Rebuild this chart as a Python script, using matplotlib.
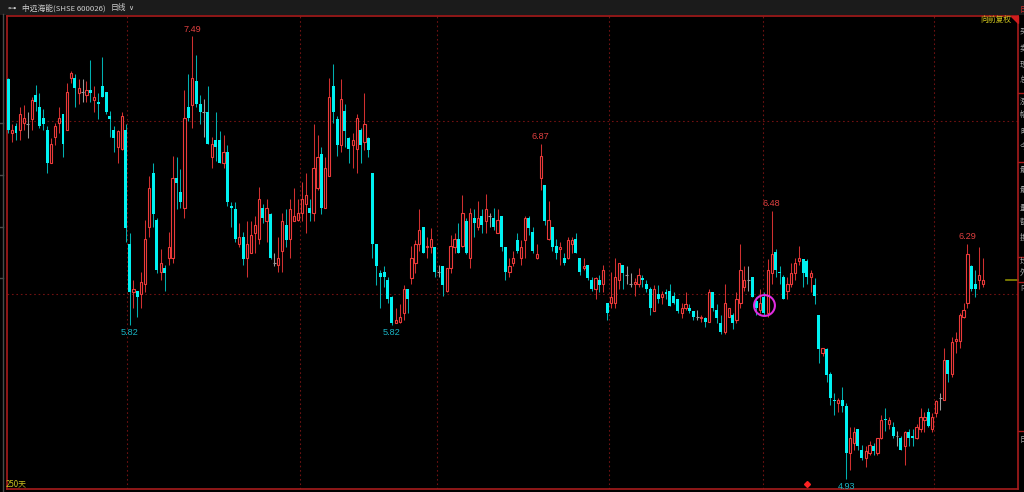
import numpy as np
import matplotlib
matplotlib.use("Agg")
import matplotlib.pyplot as plt
import matplotlib.transforms as mtransforms
from matplotlib.patches import Rectangle, Polygon
from matplotlib.lines import Line2D

plt.rcParams['font.family'] = ['Noto Sans CJK SC', 'DejaVu Sans']

# 日线 OHLC, 250 根, 从左到右
opens = [
    7.24, 6.93, 6.97, 6.95, 6.99, 6.98, 7.01, 7.15, 7.08, 7.02,
    6.95, 6.76, 6.91, 6.99, 7.04, 6.95, 7.25, 7.25, 7.16, 7.17,
    7.15, 7.18, 7.12, 7.11, 7.20, 7.17, 7.03, 6.95, 6.85, 6.84,
    6.95, 6.29, 6.01, 6.02, 6.00, 6.06, 6.39, 6.70, 6.43, 6.13,
    6.15, 6.21, 6.21, 6.67, 6.59, 6.50, 7.08, 7.09, 7.23, 7.10,
    7.05, 7.05, 6.79, 6.89, 6.89, 6.76, 6.82, 6.51, 6.49, 6.29,
    6.33, 6.21, 6.24, 6.35, 6.32, 6.50, 6.42, 6.46, 6.18, 6.17,
    6.25, 6.40, 6.32, 6.42, 6.43, 6.47, 6.52, 6.50, 6.47, 6.61,
    6.81, 6.50, 6.68, 7.20, 7.01, 6.86, 7.06, 6.90, 6.86, 6.84,
    6.95, 6.88, 6.90, 6.70, 6.29, 6.12, 6.13, 6.08, 5.98, 5.83,
    5.84, 5.89, 6.03, 6.09, 6.18, 6.29, 6.39, 6.27, 6.27, 6.27,
    6.13, 6.16, 6.02, 6.15, 6.27, 6.32, 6.28, 6.42, 6.21, 6.44,
    6.39, 6.45, 6.42, 6.45, 6.44, 6.35, 6.45, 6.27, 6.13, 6.18,
    6.31, 6.21, 6.31, 6.44, 6.36, 6.21, 6.67, 6.63, 6.32, 6.39,
    6.28, 6.26, 6.21, 6.21, 6.29, 6.32, 6.21, 6.15, 6.17, 6.08,
    6.03, 6.08, 6.06, 5.95, 5.95, 5.95, 6.08, 6.17, 6.11, 6.06,
    6.06, 6.06, 6.09, 6.06, 6.03, 5.90, 6.00, 5.98, 6.01, 6.02,
    5.99, 5.97, 5.89, 5.92, 5.92, 5.90, 5.87, 5.86, 5.86, 5.84,
    6.01, 5.91, 5.83, 5.78, 5.87, 5.88, 5.85, 5.95, 6.04, 6.08,
    6.10, 5.96, 5.91, 5.98, 5.89, 6.12, 6.24, 6.13, 6.10, 6.02,
    6.06, 6.12, 6.19, 6.20, 6.19, 6.10, 6.05, 5.88, 5.66, 5.68,
    5.54, 5.39, 5.37, 5.39, 5.35, 5.08, 5.14, 5.22, 5.10, 5.05,
    5.08, 5.12, 5.08, 5.17, 5.28, 5.25, 5.23, 5.18, 5.17, 5.12,
    5.20, 5.18, 5.17, 5.22, 5.27, 5.32, 5.22, 5.31, 5.40, 5.39,
    5.62, 5.54, 5.73, 5.73, 5.87, 5.95, 6.16, 6.06, 6.08, 6.06,
]
highs = [
    7.25, 6.98, 6.99, 7.08, 7.09, 7.05, 7.14, 7.21, 7.16, 7.07,
    6.97, 6.90, 6.99, 7.08, 7.04, 7.22, 7.29, 7.27, 7.24, 7.24,
    7.23, 7.35, 7.20, 7.16, 7.37, 7.17, 7.06, 6.97, 6.95, 7.05,
    6.98, 6.35, 6.08, 6.02, 6.13, 6.43, 6.68, 6.76, 6.44, 6.26,
    6.17, 6.36, 6.80, 6.79, 6.72, 7.18, 7.27, 7.49, 7.38, 7.15,
    7.13, 7.20, 6.91, 7.05, 6.94, 6.92, 6.86, 6.53, 6.53, 6.41,
    6.36, 6.42, 6.42, 6.45, 6.62, 6.52, 6.55, 6.47, 6.24, 6.33,
    6.47, 6.49, 6.55, 6.61, 6.55, 6.65, 6.70, 6.55, 6.98, 6.92,
    6.85, 6.79, 7.25, 7.33, 7.03, 7.24, 7.10, 6.91, 6.93, 7.04,
    6.96, 7.16, 6.91, 6.70, 6.29, 6.14, 6.16, 6.10, 5.99, 5.92,
    5.94, 6.05, 6.03, 6.28, 6.31, 6.49, 6.39, 6.33, 6.38, 6.27,
    6.17, 6.16, 6.15, 6.34, 6.35, 6.41, 6.57, 6.44, 6.50, 6.49,
    6.54, 6.49, 6.58, 6.47, 6.50, 6.49, 6.45, 6.27, 6.21, 6.25,
    6.35, 6.31, 6.45, 6.45, 6.39, 6.29, 6.87, 6.63, 6.54, 6.39,
    6.32, 6.30, 6.24, 6.33, 6.33, 6.35, 6.21, 6.21, 6.17, 6.10,
    6.10, 6.11, 6.17, 5.95, 6.13, 6.21, 6.18, 6.17, 6.16, 6.12,
    6.09, 6.15, 6.11, 6.08, 6.04, 6.05, 6.05, 6.02, 6.03, 6.06,
    6.01, 5.97, 5.95, 6.01, 5.94, 5.90, 5.91, 5.88, 5.87, 6.03,
    6.01, 5.94, 5.88, 6.06, 5.92, 5.89, 6.01, 6.29, 6.16, 6.16,
    6.10, 5.98, 6.03, 6.01, 6.20, 6.48, 6.26, 6.16, 6.11, 6.10,
    6.18, 6.21, 6.28, 6.20, 6.20, 6.14, 6.09, 5.88, 5.69, 5.69,
    5.55, 5.43, 5.40, 5.46, 5.37, 5.23, 5.23, 5.22, 5.13, 5.12,
    5.15, 5.14, 5.17, 5.30, 5.34, 5.29, 5.26, 5.21, 5.18, 5.21,
    5.22, 5.22, 5.25, 5.34, 5.32, 5.34, 5.31, 5.39, 5.43, 5.69,
    5.62, 5.75, 5.78, 5.89, 5.95, 6.29, 6.17, 6.14, 6.27, 6.21,
]
lows = [
    6.93, 6.88, 6.89, 6.89, 6.95, 6.90, 6.95, 7.06, 6.96, 6.95,
    6.70, 6.76, 6.86, 6.93, 6.79, 6.95, 7.22, 7.08, 7.10, 7.11,
    7.11, 7.11, 7.05, 7.01, 7.14, 7.04, 6.91, 6.82, 6.76, 6.83,
    6.30, 5.82, 5.92, 5.87, 5.92, 6.01, 6.33, 6.39, 6.12, 6.08,
    6.02, 6.17, 6.18, 6.49, 6.50, 6.44, 7.00, 6.96, 7.08, 6.98,
    6.91, 6.87, 6.73, 6.77, 6.76, 6.73, 6.51, 6.39, 6.30, 6.27,
    6.17, 6.10, 6.24, 6.24, 6.29, 6.41, 6.30, 6.20, 6.16, 6.13,
    6.13, 6.27, 6.21, 6.42, 6.42, 6.42, 6.35, 6.42, 6.42, 6.60,
    6.46, 6.50, 6.68, 6.99, 6.80, 6.82, 6.85, 6.76, 6.73, 6.70,
    6.76, 6.83, 6.79, 6.21, 6.05, 5.92, 6.04, 5.95, 5.82, 5.83,
    5.83, 5.85, 5.89, 6.06, 6.12, 6.25, 6.24, 6.21, 6.24, 6.10,
    6.10, 5.99, 6.01, 6.12, 6.24, 6.24, 6.27, 6.23, 6.15, 6.33,
    6.37, 6.35, 6.35, 6.39, 6.37, 6.35, 6.25, 6.08, 6.10, 6.16,
    6.24, 6.17, 6.21, 6.34, 6.24, 6.20, 6.60, 6.40, 6.31, 6.25,
    6.20, 6.17, 6.17, 6.20, 6.24, 6.24, 6.11, 6.14, 6.08, 6.02,
    5.97, 6.01, 6.01, 5.85, 5.92, 5.92, 6.03, 6.03, 6.06, 6.04,
    5.99, 6.04, 6.04, 6.01, 5.88, 5.90, 5.95, 5.94, 5.97, 5.93,
    5.94, 5.89, 5.86, 5.91, 5.89, 5.85, 5.85, 5.84, 5.81, 5.84,
    5.90, 5.83, 5.77, 5.77, 5.87, 5.80, 5.83, 5.92, 6.02, 6.02,
    5.98, 5.88, 5.89, 5.88, 5.87, 6.06, 6.10, 6.06, 5.97, 5.97,
    6.04, 6.08, 6.17, 6.04, 6.06, 6.01, 5.94, 5.60, 5.64, 5.49,
    5.36, 5.30, 5.32, 5.32, 4.93, 4.98, 5.10, 5.10, 5.04, 5.00,
    5.07, 5.07, 5.07, 5.16, 5.21, 5.22, 5.17, 5.12, 5.10, 5.01,
    5.12, 5.12, 5.16, 5.20, 5.20, 5.23, 5.20, 5.29, 5.33, 5.39,
    5.49, 5.52, 5.66, 5.69, 5.86, 5.92, 6.02, 5.98, 6.03, 6.04,
]
closes = [
    6.95, 6.95, 6.93, 7.04, 7.02, 6.98, 7.12, 7.11, 6.97, 6.98,
    6.76, 6.87, 6.97, 7.02, 6.87, 7.17, 7.28, 7.19, 7.19, 7.17,
    7.18, 7.16, 7.14, 7.10, 7.14, 7.05, 7.01, 6.90, 6.94, 7.03,
    6.38, 6.01, 6.03, 5.98, 6.07, 6.32, 6.61, 6.46, 6.14, 6.18,
    6.12, 6.27, 6.67, 6.64, 6.53, 7.02, 7.02, 7.25, 7.10, 7.05,
    7.05, 6.87, 6.87, 6.85, 6.76, 6.82, 6.53, 6.50, 6.32, 6.33,
    6.20, 6.29, 6.34, 6.40, 6.55, 6.44, 6.50, 6.21, 6.18, 6.21,
    6.42, 6.31, 6.49, 6.45, 6.47, 6.55, 6.57, 6.47, 6.73, 6.79,
    6.50, 6.73, 7.14, 7.05, 6.86, 7.13, 6.94, 6.84, 6.89, 7.02,
    6.86, 6.98, 6.83, 6.29, 6.16, 6.10, 6.10, 5.97, 5.83, 5.85,
    5.87, 6.03, 5.97, 6.21, 6.29, 6.37, 6.24, 6.28, 6.32, 6.13,
    6.13, 6.05, 6.15, 6.28, 6.32, 6.24, 6.47, 6.24, 6.47, 6.41,
    6.44, 6.40, 6.49, 6.45, 6.39, 6.43, 6.27, 6.13, 6.16, 6.21,
    6.25, 6.27, 6.44, 6.38, 6.25, 6.23, 6.80, 6.42, 6.43, 6.27,
    6.24, 6.27, 6.18, 6.31, 6.31, 6.24, 6.13, 6.16, 6.09, 6.03,
    6.09, 6.05, 6.14, 5.89, 5.98, 6.10, 6.18, 6.12, 6.11, 6.06,
    6.07, 6.11, 6.08, 6.03, 5.92, 6.03, 5.97, 6.00, 6.00, 5.93,
    5.95, 5.90, 5.92, 5.94, 5.90, 5.87, 5.87, 5.87, 5.84, 6.01,
    5.92, 5.86, 5.78, 5.95, 5.92, 5.83, 5.97, 6.14, 6.08, 6.08,
    5.98, 5.92, 5.95, 5.89, 6.14, 6.23, 6.14, 6.12, 5.97, 6.06,
    6.12, 6.18, 6.21, 6.12, 6.10, 6.12, 5.99, 5.68, 5.69, 5.53,
    5.40, 5.38, 5.39, 5.35, 5.08, 5.17, 5.20, 5.12, 5.05, 5.09,
    5.13, 5.09, 5.17, 5.27, 5.27, 5.27, 5.18, 5.18, 5.10, 5.20,
    5.17, 5.17, 5.23, 5.29, 5.29, 5.24, 5.29, 5.38, 5.40, 5.62,
    5.54, 5.72, 5.74, 5.88, 5.91, 6.23, 6.03, 6.03, 6.11, 6.08,
]

# 标注的阶段高低点 (K线序号, 类型)
extreme_marks = [(47, 'high'), (31, 'low'), (98, 'low'), (136, 'high'),
                 (195, 'high'), (214, 'low'), (245, 'high')]
grid_idx = [30.4, 74.6, 109.6, 153.5, 192.8, 236.5]   # 月分隔线
grid_prices = [6.0, 7.0]
circle_idx = 193
event_idx = 204

title_name = '中远海能(SHSE 600026)'
period = '日线'
adjust = '向前复权'
span = '250天'
side_chars = ['日', '买', '卖', '现', '总', '涨', '幅', '昨', '今', '最',
              '最', '量', '额', '换', '均', '外', '内', '日']
side_y = [10, 32, 48, 65, 80, 102, 115, 132, 147, 170,
          190, 208, 222, 238, 262, 273, 288, 440]
side_seps = [93, 162, 257, 282, 431]

W, H = 1024, 492
def fx(px): return px / W
def fy(py): return 1 - py / H

UP = '#ec3a3a'
UP_WICK = '#d03030'
DOWN = '#00f2f2'
DOWN_WICK = '#00b0b0'
FLAT = '#9c9c9c'
FRAME = '#a81c1c'
GRID = '#701212'

fig = plt.figure(figsize=(10.24, 4.92), dpi=100, facecolor='black')

# 顶部标题栏
fig.add_artist(Rectangle((0, fy(15)), 1, 15 / H, transform=fig.transFigure,
                         facecolor='#1b1b1b', edgecolor='none'))
hdr = '#cfcfcf'
fig.text(fx(7), fy(8), '⊶', color=hdr, fontsize=6, va='center')
fig.text(fx(22), fy(8), title_name, color=hdr, fontsize=5.6, va='center')
fig.text(fx(111), fy(8), period, color=hdr, fontsize=5.6, va='center')
fig.text(fx(128), fy(8.5), '∨', color=hdr, fontsize=5, va='center',
         family=['DejaVu Sans'])

ax = fig.add_axes([fx(7), fy(489), 1011 / W, 473 / H])
ax.set_facecolor('black')

o = np.array(opens); h = np.array(highs)
l = np.array(lows); c = np.array(closes)
x = np.arange(len(o))
up = c > o
down = c < o
flat = c == o

wick_col = np.where(up, UP_WICK, np.where(down, DOWN_WICK, FLAT))
ax.vlines(x, l, h, colors=wick_col, linewidth=0.75, zorder=2)
ax.bar(x[up], (c - o)[up], bottom=o[up], width=0.58, facecolor='black',
       edgecolor=UP, linewidth=0.8, zorder=3)
ax.bar(x[down], (o - c)[down], bottom=c[down], width=0.76, color=DOWN,
       linewidth=0, zorder=3)
ax.hlines(c[flat], x[flat] - 0.38, x[flat] + 0.38, colors=FLAT,
          linewidth=0.8, zorder=3)

for gx in grid_idx:
    ax.axvline(gx, color=GRID, lw=0.8, ls=(0, (1.5, 2.5)), zorder=1)
for gp in grid_prices:
    ax.axhline(gp, color=GRID, lw=0.8, ls=(0, (1.5, 2.5)), zorder=1)

for idx, kind in extreme_marks:
    if kind == 'high':
        val, off, col = h[idx], 7, '#e04040'
    else:
        val, off, col = l[idx], -7, '#1ab4c4'
    ax.annotate(f'{val:.2f}', (idx, val), xytext=(0, off),
                textcoords='offset pixels', ha='center', va='center',
                fontsize=6.6, family=['Liberation Sans'], color=col)

# 选中K线的圆圈和事件标记
ax.plot(circle_idx, (o[circle_idx] + c[circle_idx]) / 2, marker='o', ms=15,
        mfc='none', mec='#e02ce0', mew=1.5, zorder=5)
trans = mtransforms.blended_transform_factory(ax.transData, ax.transAxes)
ax.plot(event_idx, 0.011, marker='D', ms=3, color='#ff2222', transform=trans,
        clip_on=False, zorder=5)
trans2 = mtransforms.blended_transform_factory(ax.transAxes, ax.transData)
ax.plot([0.988, 1.0], [c[-1], c[-1]], color='#8c8c00', lw=1.2,
        transform=trans2, clip_on=False)

ax.set_xlim(-0.3, 257.9)
ax.set_ylim(4.873, 7.607)
ax.set_xticks([]); ax.set_yticks([])
for sp in ax.spines.values():
    sp.set_color(FRAME)
    sp.set_linewidth(1.2)

fig.text(fx(980), fy(20), adjust, color='#d2c81e', fontsize=5.6, va='center')
fig.add_artist(Polygon([(fx(1011), fy(16)), (fx(1018), fy(16)),
                        (fx(1018), fy(23))], closed=True,
                       transform=fig.transFigure, color='#d01e1e'))
fig.text(fx(6), fy(484), span, color='#c8c020', fontsize=5.7, va='center')

# 右侧信息栏, 在原图中被窗口边缘截断
for ch, yy in zip(side_chars, side_y):
    col = '#d02a2a' if yy < 20 else '#a8a8a8'
    fig.text(fx(1020), fy(yy), ch, color=col, fontsize=5.6, va='center')
for yy in side_seps:
    fig.add_artist(Line2D([fx(1018), 1], [fy(yy), fy(yy)], color=FRAME, lw=1))

# 左侧边缘
fig.add_artist(Line2D([fx(2.5), fx(2.5)], [fy(14), 0], color='#4a4a4a', lw=1))
for yy in [123, 175, 227, 278]:
    fig.add_artist(Line2D([0, fx(3)], [fy(yy), fy(yy)], color='#4a4a4a', lw=1))

fig.savefig('out.png', dpi=100, facecolor='black')
